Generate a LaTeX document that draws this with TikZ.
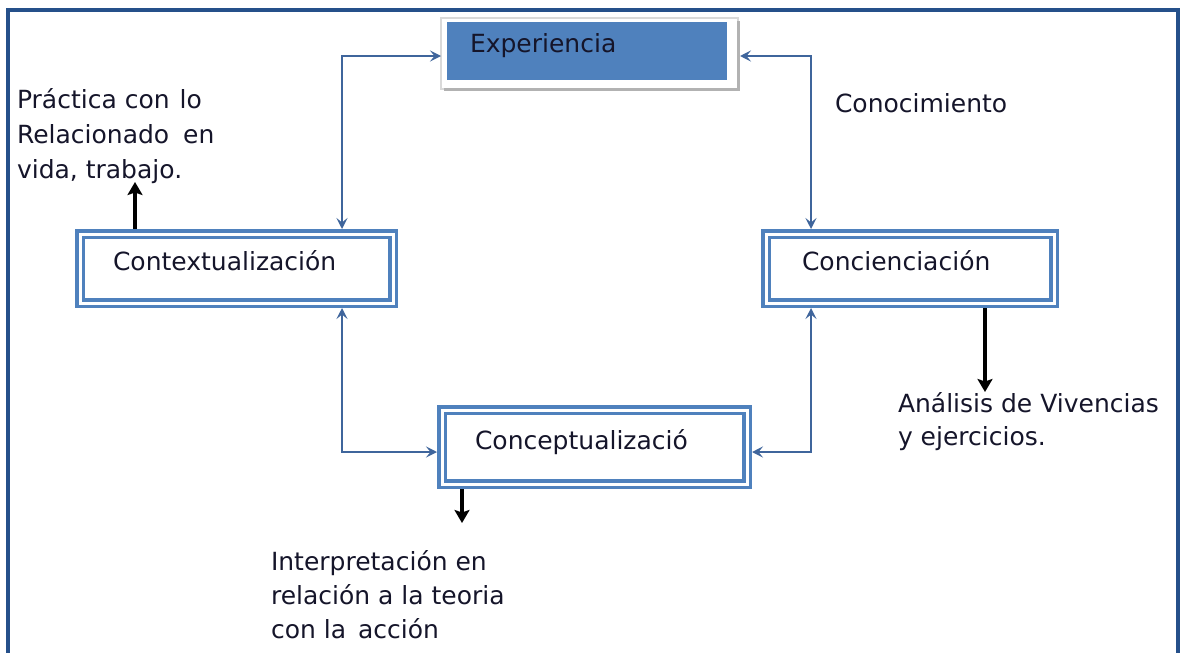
\documentclass[tikz,border=0pt]{standalone}
\usepackage{fontspec}
\setmainfont{DejaVu Sans}
\usetikzlibrary{arrows.meta,calc}
\definecolor{frameblue}{HTML}{25508A}
\definecolor{boxblue}{HTML}{4F81BD}
\definecolor{linkblue}{HTML}{3F659C}
\definecolor{txt}{HTML}{15152A}
\begin{document}
\begin{tikzpicture}[x=1pt,y=-1pt,
  every node/.style={outer sep=0pt},
  txtfont/.style={font=\fontsize{25}{35}\selectfont, text=txt},
  dbox/.style={draw=boxblue, line width=3.8pt, double=white, double distance=3pt,
    inner ysep=0pt, align=left, txtfont},
  link/.style={draw=linkblue, line width=2.8pt, {Stealth[length=11pt,width=11pt,inset=4.5pt]}-{Stealth[length=11pt,width=11pt,inset=4.5pt]}},
  blk/.style={draw=black, line width=3.2pt, -{Stealth[length=13pt,width=15pt,inset=2.5pt]}},
  note/.style={txtfont, align=left, inner sep=0pt, anchor=base west}
]
\useasboundingbox (0,0) rectangle (1181,653);
\clip (0,0) rectangle (1181,653);
% outer frame
\draw[frameblue, line width=4.5pt] (8,700) -- (8,10) -- (1178,10) -- (1178,700);

% Experiencia
\node[draw=gray!30, fill=white, line width=1.5pt, minimum width=297pt, minimum height=71pt,
  inner sep=0pt] (exp) at (589.5,53.5) {};
\draw[gray!60, line width=3pt] ($(exp.north east)+(0,3)$) -- (exp.south east) -- ($(exp.south west)+(3,0)$);
\fill[boxblue] ($(exp.north west)+(6,4)$) rectangle ($(exp.south east)+(-11,-9)$);
\node[txtfont, anchor=base west, inner sep=0pt] (exptxt) at (470,52) {Experiencia};

% double boxes
\node[dbox, minimum width=313pt, minimum height=69pt, inner xsep=33pt, text width=247pt,
  text height=36pt, text depth=33pt] (ctx) at (236.5,268.5) {Contextualización};
\node[dbox, minimum width=288pt, minimum height=69pt, inner xsep=36pt, text width=216pt,
  text height=36pt, text depth=33pt] (con) at (910,268.5) {Concienciación};
\node[dbox, minimum width=305pt, minimum height=74pt, inner xsep=33pt, text width=239pt,
  text height=39pt, text depth=35pt] (cpt) at (594.5,447) {Conceptualizació};

% blue connectors
\draw[link, shorten >=5pt] ($(exp.west)+(0,2.5)$) -| ($(ctx.north east)+(-51,0)$);
\draw[link, shorten >=5pt] ($(exp.east)+(2,2.5)$) -| ($(con.north west)+(45,0)$);
\draw[link, shorten <=5pt, shorten >=5pt] ($(ctx.south east)+(-51,0)$) |- ($(cpt.west)+(0,5)$);
\draw[link, shorten <=5pt, shorten >=5pt] ($(con.south west)+(45,0)$) |- ($(cpt.east)+(0,5)$);

% notes (base anchor = last line)
\node[note] (prac) at (17,178) {Práctica con\hspace{10pt}lo\\Relacionado\hspace{6pt} en\\vida, trabajo.};
\node[note] (conoc) at (835,112) {Conocimiento};
\node[note, font=\fontsize{25}{33}\selectfont] (anal) at (898,445) {Análisis de Vivencias\\y ejercicios.};
\node[note, font=\fontsize{25}{34}\selectfont] (interp) at (271,638) {Interpretación en\\relación a la teoria\\con la\hspace{4pt} acción};

% black arrows
\coordinate (t1) at (135,182);
\coordinate (t2) at (985,392);
\coordinate (t3) at (462,523);
\draw[blk, shorten <=5pt] ($(ctx.north west)+(55,0)$) -- (t1);
\draw[blk, shorten <=5pt] ($(con.south west)+(219,0)$) -- (t2);
\draw[blk, shorten <=5pt] ($(cpt.south west)+(20,0)$) -- (t3);
\end{tikzpicture}
\end{document}
